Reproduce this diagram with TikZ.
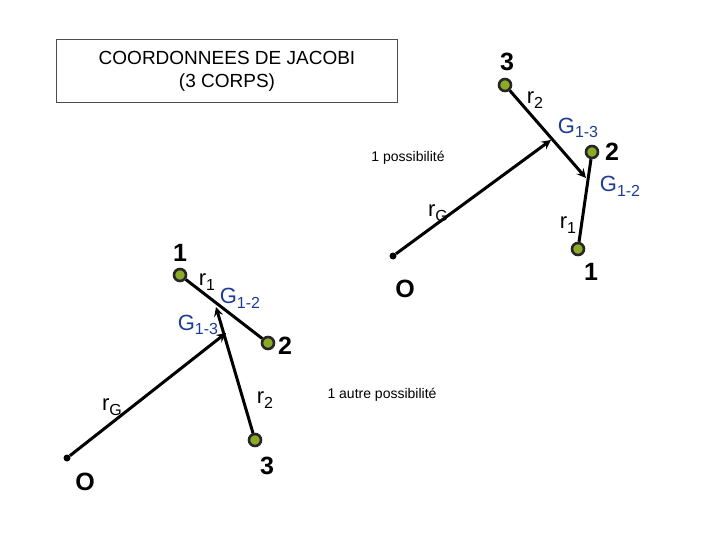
\documentclass[tikz,border=0pt]{standalone}
\usepackage{fontspec}
\setmainfont{Liberation Sans}
\definecolor{ptgreen}{RGB}{140,170,40}
\definecolor{gblue}{RGB}{30,60,150}
\newcommand{\sbx}[1]{\raisebox{-0.4ex}{\fontsize{16}{16}\selectfont #1}}
\begin{document}
\begin{tikzpicture}[x=1pt,y=-1pt,
  pt/.style={circle,draw=black!85,fill=ptgreen,line width=2.6pt,minimum size=12pt,inner sep=0pt},
  org/.style={circle,fill=black,minimum size=7pt,inner sep=0pt},
  vec/.style={line width=3pt,-stealth},
  seg/.style={line width=3pt},
  big/.style={font=\fontsize{25}{25}\selectfont\bfseries},
  lab/.style={font=\fontsize{22}{22}\selectfont},
  glab/.style={font=\fontsize{22}{22}\selectfont,text=gblue},
  small/.style={font=\fontsize{14}{15}\selectfont}]
\useasboundingbox (0,0) rectangle (720,540);
\node[draw=black!70,line width=1.5pt,minimum width=341pt,minimum height=63pt,align=center,font=\fontsize{19}{23}\selectfont] (title) at (227,71) {COORDONNEES DE JACOBI\\(3 CORPS)};
% top-right
\node[pt] (t3) at (505,85) {};
\node[pt] (t2) at (592,152) {};
\node[pt] (t1) at (578,249) {};
\node[org] (tO) at (393,256) {};
\coordinate (t12) at (586,178);
\coordinate (t13) at (551,140);
\draw[seg] (t1) -- (t2);
\draw[vec] (t3) -- (t12);
\draw[vec] (tO) -- (t13);
\node[big] (l3) at (507,62) {3};
\node[lab] (lr2) at (535,100) {r\sbx{2}};
\node[glab] (lg13) at (578,128) {G\sbx{1-3}};
\node[big] (l2) at (612,152) {2};
\node[glab] (lg12) at (620,186) {G\sbx{1-2}};
\node[lab] (lr1) at (568,225) {r\sbx{1}};
\node[big] (l1) at (591,272) {1};
\node[lab] (lrG) at (438,213) {r\sbx{G}};
\node[big] (lO) at (405,289) {O};
\node[small] (p1) at (408,158) {1 possibilité};
% bottom-left
\node[pt] (b1) at (180,275) {};
\node[pt] (b2) at (268,343) {};
\node[pt] (b3) at (255,440) {};
\node[org] (bO) at (67,458) {};
\coordinate (b12) at (216,307);
\coordinate (b13) at (226,333);
\draw[seg] (b1) -- (b2);
\draw[vec] (b3) -- (b12);
\draw[vec] (bO) -- (b13);
\node[big] (m1) at (180,253) {1};
\node[lab] (mr1) at (207,282) {r\sbx{1}};
\node[glab] (mg12) at (240,298) {G\sbx{1-2}};
\node[glab] (mg13) at (198,325) {G\sbx{1-3}};
\node[big] (m2) at (285,346) {2};
\node[lab] (mr2) at (265,400) {r\sbx{2}};
\node[big] (m3) at (267,466) {3};
\node[lab] (mrG) at (112,407) {r\sbx{G}};
\node[big] (mO) at (85,482) {O};
\node[small] (p2) at (382,395) {1 autre possibilité};
\end{tikzpicture}
\end{document}
